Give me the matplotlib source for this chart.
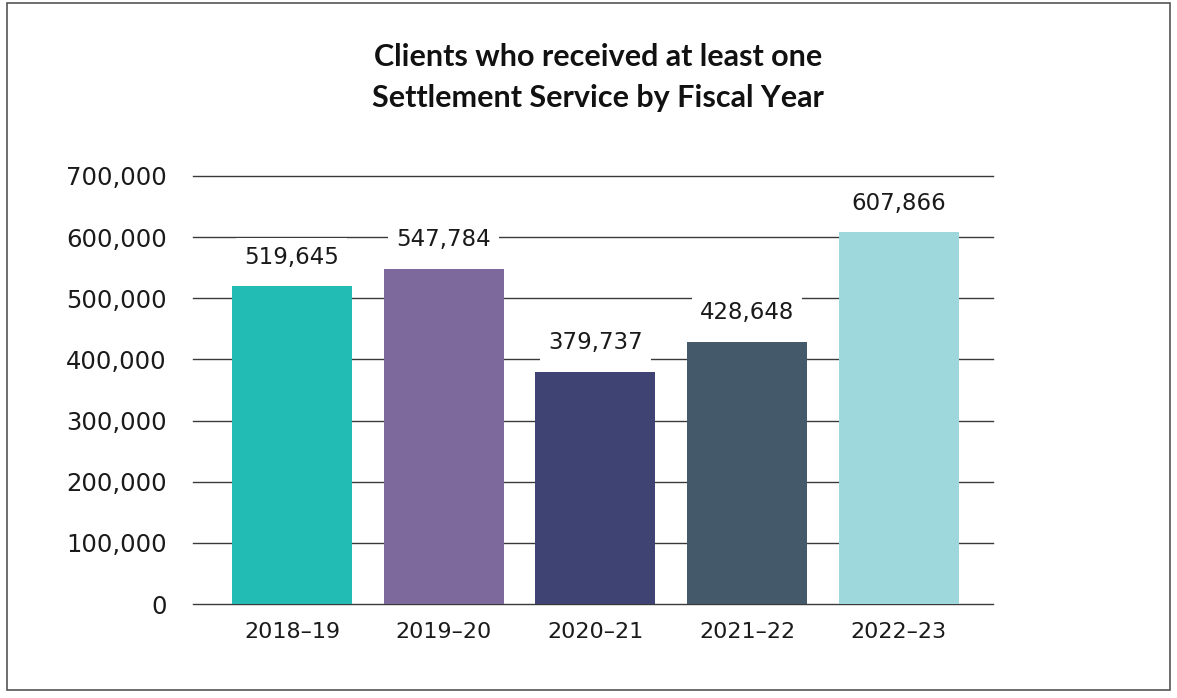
import matplotlib
matplotlib.use("Agg")
import matplotlib.pyplot as plt
from matplotlib.patches import Rectangle

years = ["2018\u201319", "2019\u201320", "2020\u201321", "2021\u201322", "2022\u201323"]
clients = [519645, 547784, 379737, 428648, 607866]
bar_colors = ["#22bcb5", "#7d699c", "#3e4374", "#445a6a", "#9ed8dc"]
y_ticks = [0, 100000, 200000, 300000, 400000, 500000, 600000, 700000]

plt.rcParams["font.family"] = ["DejaVu Sans"]

W, H = 1177, 698
fig = plt.figure(figsize=(W / 100, H / 100), dpi=100)

# outer frame
fig.add_artist(Rectangle((7 / W, 1 - 690 / H), (1170 - 7) / W, (690 - 3) / H,
                         transform=fig.transFigure, fill=False,
                         edgecolor="#555555", linewidth=1.2))

ax = fig.add_axes([193 / W, 1 - 604 / H, 800 / W, (604 - 176) / H])
x = list(range(len(years)))
ax.bar(x, clients, width=0.79, color=bar_colors, zorder=2)

ax.set_ylim(0, 700000)
ax.set_xlim(-0.652, 4.62)
ax.set_yticks(y_ticks)
ax.set_yticklabels([f"{v:,}" for v in y_ticks])
ax.set_xticks(x)
ax.set_xticklabels(years)
ax.tick_params(axis="y", length=0, labelsize=17.5, colors="#1a1a1a", pad=19)
ax.tick_params(axis="x", length=0, labelsize=16, colors="#1a1a1a", pad=13)

ax.grid(axis="y", color="#3a3a3a", linewidth=1, zorder=0)
for gl in ax.get_ygridlines():
    gl.set_clip_on(False)
ax.set_axisbelow(True)
for s in ax.spines.values():
    s.set_visible(False)

for xi, v in zip(x, clients):
    ax.annotate(f"{v:,}", (xi, v), xytext=(0, 21), textcoords="offset points",
                ha="center", va="center", fontsize=16.5, color="#1a1a1a", zorder=3,
                bbox=dict(boxstyle="square,pad=0.35", fc="white", ec="none"))

title_font = ["Lato", "DejaVu Sans"]
fig.text(598 / W, 1 - 57 / H, "Clients who received at least one", family=title_font,
         ha="center", va="center", fontsize=22, fontweight="bold", color="#111111")
fig.text(598 / W, 1 - 98 / H, "Settlement Service by Fiscal Year", family=title_font,
         ha="center", va="center", fontsize=22, fontweight="bold", color="#111111")

fig.savefig("out.png", dpi=100, facecolor="white")
